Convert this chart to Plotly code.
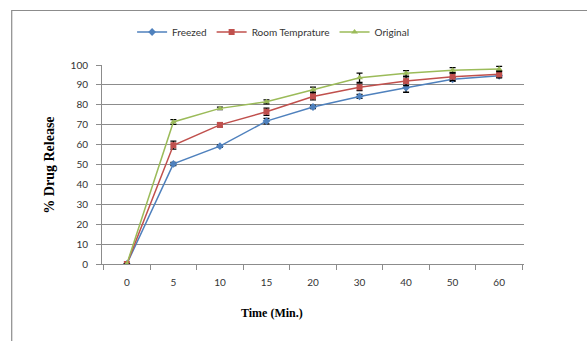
import plotly.graph_objects as go

# Sampling times (minutes), shown as evenly spaced categories
time_labels = ["0", "5", "10", "15", "20", "30", "40", "50", "60"]

# Cumulative % drug release for each storage condition
freezed = [0, 50.3, 59.2, 71.8, 78.9, 84.2, 88.6, 92.8, 94.6]
room_temp = [0, 59.7, 69.9, 76.5, 84.2, 88.8, 91.9, 94.1, 95.3]
original = [0, 71.4, 78.2, 81.5, 87.6, 93.6, 95.8, 97.3, 98.0]

# Standard deviations (error bars)
freezed_sd = [0, 0.8, 0.6, 1.4, 0.8, 1.0, 2.3, 1.0, 0.8]
room_temp_sd = [0, 2.0, 1.0, 1.8, 1.7, 1.7, 2.2, 2.0, 1.8]
original_sd = [0, 1.2, 0.6, 1.0, 1.3, 2.3, 1.4, 1.4, 1.3]

series = [
    ("Freezed", freezed, freezed_sd, "#4F81BD", "diamond", 6),
    ("Room Temprature", room_temp, room_temp_sd, "#C0504D", "square", 6),
    ("Original", original, original_sd, "#9BBB59", "triangle-up", 6),
]

fig = go.Figure()
for name, vals, sd, color, symbol, msize in series:
    fig.add_trace(go.Scatter(
        x=time_labels, y=vals, name=name, mode="lines+markers",
        line=dict(color=color, width=1.5),
        marker=dict(symbol=symbol, size=msize, color=color),
        error_y=dict(type="data", array=sd, visible=True,
                     color="black", thickness=1.3, width=3),
    ))

# Plot area geometry in pixels
W, H = 587, 341
L, R, T, B = 101.5, 524.5, 65, 264
pw, ph = R - L, B - T


def px(x):
    return (x - L) / pw


def py(y):
    return (B - y) / ph


tick_font = dict(family="Lato, Open Sans, sans-serif", size=10, color="#333")

fig.update_layout(
    width=W, height=H,
    margin=dict(l=L, r=W - R, t=T, b=H - B, pad=0),
    paper_bgcolor="white", plot_bgcolor="white",
    showlegend=True,
    legend=dict(orientation="h", x=px(273), y=py(32), xanchor="center",
                yanchor="middle", font=tick_font, itemwidth=30,
                bgcolor="rgba(0,0,0,0)", traceorder="normal"),
    xaxis=dict(type="category", categoryorder="array", categoryarray=time_labels,
               showgrid=False, showline=True, linecolor="#8c8c8c", linewidth=1,
               ticks="outside", tickson="boundaries", ticklen=5,
               tickcolor="#8c8c8c", tickfont=tick_font, zeroline=False,
               ticklabelstandoff=9, fixedrange=True),
    yaxis=dict(range=[0, 100], dtick=10, showgrid=True, gridcolor="#8c8c8c",
               gridwidth=1, showline=True, linecolor="#8c8c8c", linewidth=1,
               ticks="outside", ticklen=5, tickcolor="#8c8c8c",
               tickfont=tick_font, zeroline=False, ticklabelstandoff=6,
               fixedrange=True),
    shapes=[
        dict(type="rect", xref="paper", yref="paper",
             x0=px(11), x1=px(W + 20), y0=py(10.5), y1=py(H + 20),
             line=dict(color="#8c8c8c", width=1.2), layer="below"),
    ],
    annotations=[
        dict(text="<b>Time (Min.)</b>", xref="paper", yref="paper",
             x=px(272), y=py(313), showarrow=False, xanchor="center",
             yanchor="middle",
             font=dict(family="Liberation Serif, serif", size=12, color="black")),
        dict(text="<b>% Drug Release</b>", xref="paper", yref="paper",
             x=px(48), y=py(165), showarrow=False, textangle=-90,
             xanchor="center", yanchor="middle",
             font=dict(family="Liberation Serif, serif", size=14, color="black")),
    ],
)

fig.write_html("out.html")
